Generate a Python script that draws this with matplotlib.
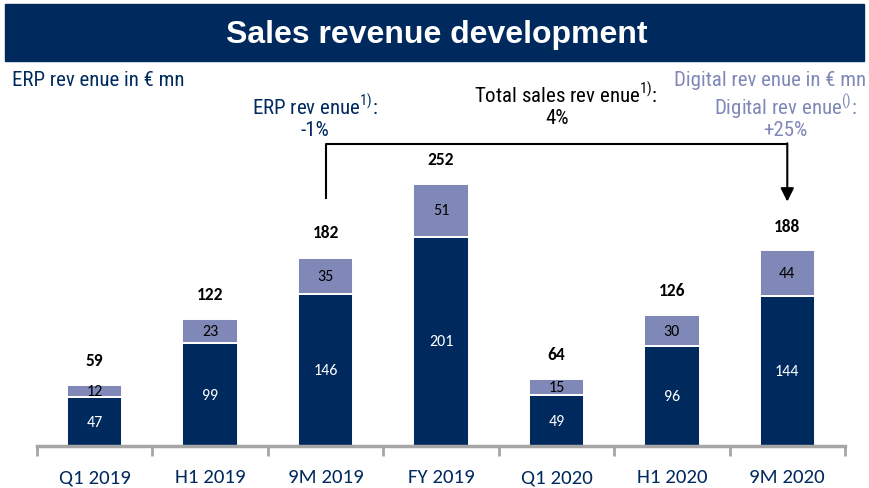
import matplotlib
matplotlib.use("Agg")
import matplotlib.pyplot as plt
from matplotlib.patches import Rectangle

periods = ["Q1 2019", "H1 2019", "9M 2019", "FY 2019", "Q1 2020", "H1 2020", "9M 2020"]
erp = [47, 99, 146, 201, 49, 96, 144]
digital = [12, 23, 35, 51, 15, 30, 44]
totals = [59, 122, 182, 252, 64, 126, 188]

NAVY = "#002a5e"
LIGHT = "#7f88b6"
GREY = "#a6a6a6"
NARROW = ["Roboto Condensed", "DejaVu Sans"]
CAL = ["Carlito", "DejaVu Sans"]

plt.rcParams["font.family"] = NARROW
plt.rcParams["mathtext.fontset"] = "custom"
plt.rcParams["mathtext.rm"] = "Roboto Condensed"

fig = plt.figure(figsize=(8.69, 4.89), dpi=100)

# title banner
fig.patches.append(Rectangle((5 / 869, 1 - 62 / 489), 859 / 869, 57 / 489,
                             transform=fig.transFigure, color=NAVY, zorder=0))
fig.text(437 / 869, 1 - 35 / 489, "Sales revenue development", ha="center", va="center",
         color="white", fontsize=23, fontweight="bold", family="Liberation Sans")

ax = fig.add_axes([37 / 869, (489 - 447) / 489, 808 / 869, 347 / 489])
x = range(len(periods))
ax.bar(x, erp, width=0.48, color=NAVY, edgecolor="white", linewidth=1.4, zorder=2)
ax.bar(x, digital, bottom=erp, width=0.48, color=LIGHT, edgecolor="white",
       linewidth=1.4, zorder=2)

for i in x:
    ax.text(i, erp[i] / 2, str(erp[i]), ha="center", va="center", color="white",
            fontsize=11.5, family=CAL)
    ax.text(i, erp[i] + digital[i] / 2, str(digital[i]), ha="center", va="center",
            color="black", fontsize=11.5, family=CAL)
    ax.text(i, totals[i] + 24, str(totals[i]), ha="center", va="center",
            color="black", fontsize=12.5, fontweight="bold", family=CAL)

ax.set_xlim(-0.5, len(periods) - 0.5)
ax.set_ylim(0, 347 / 1.04)
for s in ["top", "right", "left"]:
    ax.spines[s].set_visible(False)
ax.spines["bottom"].set_color(GREY)
ax.spines["bottom"].set_linewidth(2.5)
ax.set_yticks([])
ax.set_xticks([i - 0.5 for i in range(len(periods) + 1)])
ax.set_xticklabels([])
ax.tick_params(axis="x", which="major", length=7, width=2, color=GREY, direction="out")
ax.set_xticks(list(x), minor=True)
ax.set_xticklabels(periods, minor=True, fontsize=15, color=NAVY, family=CAL)
ax.tick_params(axis="x", which="minor", length=0, pad=16)

# growth bracket from 9M 2019 to 9M 2020
y_top = 290
ax.plot([2, 2, 6, 6], [totals[2] + 56, y_top, y_top, y_top], color="black", lw=1.5,
        clip_on=False, zorder=3)
ax.annotate("", xy=(6, totals[6] + 47), xytext=(6, y_top + 1),
            arrowprops=dict(arrowstyle="-|>", color="black", lw=1.5,
                            mutation_scale=20, shrinkA=0, shrinkB=0),
            annotation_clip=False)

fs = 15
fig.text(12 / 869, 1 - 80 / 489, "ERP rev enue in € mn", ha="left", va="center",
         color=NAVY, fontsize=fs)
fig.text(866 / 869, 1 - 80 / 489, "Digital rev enue in € mn", ha="right", va="center",
         color=LIGHT, fontsize=fs)
fig.text(315 / 869, 1 - 107 / 489, "ERP rev enue$^{1)}$:", ha="center", va="center",
         color=NAVY, fontsize=fs)
fig.text(315 / 869, 1 - 131 / 489, "-1%", ha="center", va="center",
         color=NAVY, fontsize=fs)
fig.text(566 / 869, 1 - 95 / 489, "Total sales rev enue$^{1)}$:", ha="center",
         va="center", color="black", fontsize=fs)
fig.text(557 / 869, 1 - 118 / 489, "4%", ha="center", va="center",
         color="black", fontsize=fs)
fig.text(785 / 869, 1 - 107 / 489, "Digital rev enue$^{()}$:", ha="center",
         va="center", color=LIGHT, fontsize=fs)
fig.text(785 / 869, 1 - 131 / 489, "+25%", ha="center", va="center",
         color=LIGHT, fontsize=fs)

fig.savefig("out.png", dpi=100)
